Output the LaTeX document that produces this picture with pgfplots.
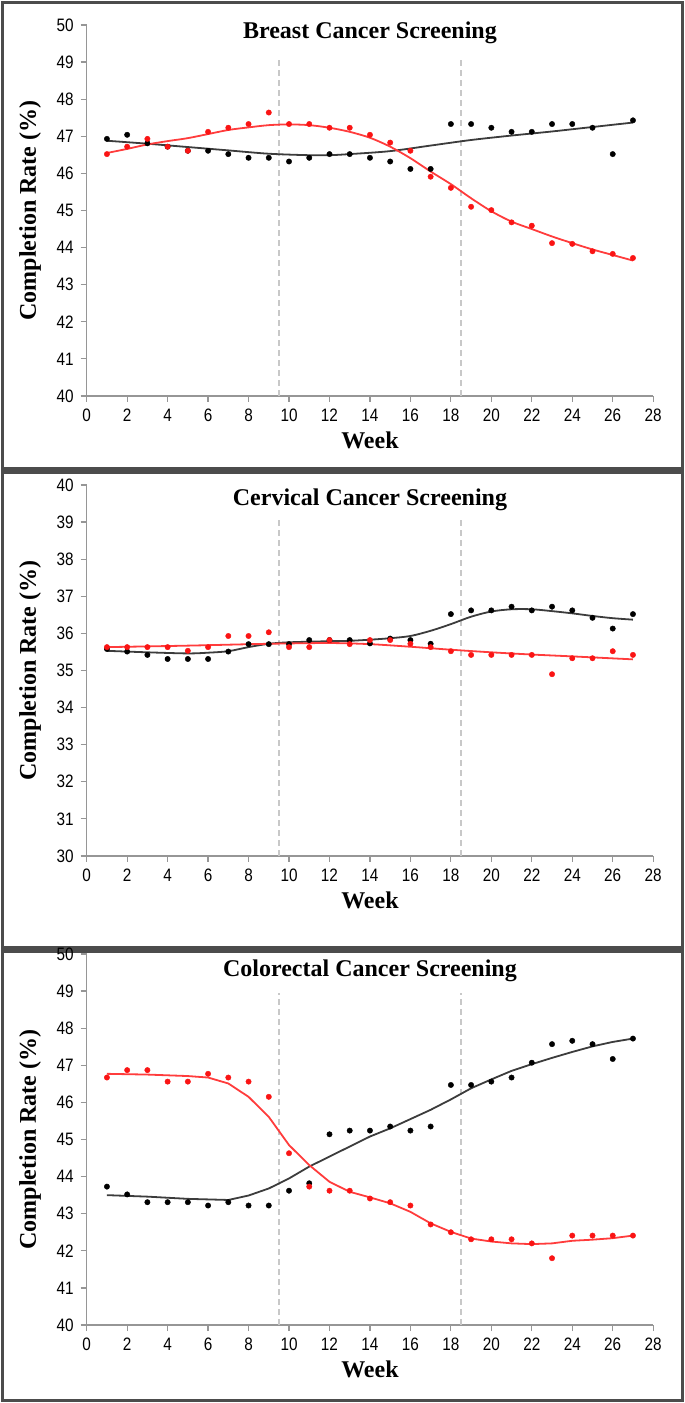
\documentclass[border=0pt]{standalone}
\usepackage{pgfplots}
\pgfplotsset{compat=1.18}
\usepackage{fontspec}
\setmainfont{Liberation Serif}
\newfontfamily\ticksans[FakeStretch=0.85]{Liberation Sans}
\definecolor{ptred}{RGB}{250,20,20}
\definecolor{lnred}{RGB}{255,60,60}
\definecolor{lnblk}{RGB}{60,60,60}
\definecolor{axgray}{RGB}{150,150,150}
\definecolor{dashgray}{RGB}{200,200,200}
\pgfplotsset{
  every axis title shift=0pt,
  panel/.style={
    scale only axis, width=283.25pt, height=185.5pt,
    xmin=0, xmax=28, xtick={0,2,...,28},
    axis lines=left,
    axis line style={axgray, line width=0.6pt, -},
    tick style={axgray, line width=0.6pt},
    tick align=outside, major tick length=3pt,
    /pgf/number format/assume math mode=true,
    ticklabel style={font=\ticksans\fontsize{9}{10}\selectfont, text=black},
    label style={font=\fontsize{12}{14}\selectfont\bfseries},
    title style={font=\fontsize{12}{14}\selectfont\bfseries, anchor=center},
    xlabel={Week},
    ylabel={Completion Rate (\%)},
    xlabel style={at={(axis description cs:0.5,-0.12)}, anchor=center},
    ylabel style={at={(axis description cs:-0.1,0.5)}, anchor=center},
    clip=false,
  },
  dpts/.style={only marks, mark=*, mark size=1.35pt, mark options={draw=black, fill=black, line width=0.2pt}},
  rpts/.style={only marks, mark=*, mark size=1.35pt, mark options={draw=ptred, fill=ptred, line width=0.2pt}},
  rline/.style={lnred, line width=0.9pt, no marks},
  bline/.style={lnblk, line width=0.9pt, no marks},
  vdash/.style={dashgray, line width=0.8pt, dash pattern=on 3pt off 2pt, no marks},
}
\begin{document}
\begin{tikzpicture}
\useasboundingbox (0pt,0pt) rectangle (342.5pt,701.5pt);
\draw[line width=1.8pt, black!70] (1.2pt,467pt) rectangle (341.3pt,700.3pt);
\draw[line width=1.8pt, black!70] (1.2pt,227.5pt) rectangle (341.3pt,465.2pt);
\draw[line width=1.8pt, black!70] (1.2pt,1.2pt) rectangle (341.3pt,225.7pt);

% ---------- Breast ----------
\begin{axis}[panel, at={(43.35pt,503.5pt)}, anchor=south west,
  ymin=40, ymax=50, ytick={40,41,...,50},
  title={Breast Cancer Screening},
  title style={at={(axis description cs:0.5,0.978)}}]
\addplot[vdash] coordinates {(9.5,40) (9.5,49.05)};
\addplot[vdash] coordinates {(18.5,40) (18.5,49.05)};
\addplot[bline, smooth] coordinates {(1,46.88) (3,46.80) (5,46.71) (7,46.62) (9,46.53) (11,46.49) (12,46.49) (13,46.52) (15,46.60) (17,46.75) (19,46.90) (21,47.02) (23,47.13) (25,47.25) (27,47.37)};
\addplot[rline, smooth] coordinates {(1,46.55) (2,46.66) (3,46.78) (4,46.87) (5,46.95) (6,47.06) (7,47.17) (8,47.24) (9,47.30) (10,47.32) (11,47.30) (12,47.23) (13,47.12) (14,46.96) (15,46.72) (16,46.41) (17,46.05) (18,45.71) (19,45.33) (20,44.98) (21,44.70) (22,44.50) (23,44.30) (24,44.12) (25,43.95) (26,43.80) (27,43.65)};
\addplot[dpts] coordinates {(1,46.93) (2,47.04) (3,46.81) (4,46.72) (5,46.61) (6,46.61) (7,46.52) (8,46.42) (9,46.42) (10,46.32) (11,46.42) (12,46.52) (13,46.52) (14,46.42) (15,46.32) (16,46.12) (17,46.12) (18,47.33) (19,47.33) (20,47.23) (21,47.12) (22,47.12) (23,47.33) (24,47.33) (25,47.23) (26,46.52) (27,47.43)};
\addplot[rpts] coordinates {(1,46.52) (2,46.72) (3,46.93) (4,46.72) (5,46.61) (6,47.12) (7,47.23) (8,47.33) (9,47.64) (10,47.33) (11,47.33) (12,47.23) (13,47.23) (14,47.04) (15,46.83) (16,46.61) (17,45.91) (18,45.61) (19,45.10) (20,45.01) (21,44.68) (22,44.59) (23,44.12) (24,44.10) (25,43.90) (26,43.83) (27,43.72)};
\end{axis}

% ---------- Cervical ----------
\begin{axis}[panel, at={(43.35pt,273.5pt)}, anchor=south west,
  ymin=30, ymax=40, ytick={30,31,...,40},
  title={Cervical Cancer Screening},
  title style={at={(axis description cs:0.5,0.96)}}]
\addplot[vdash] coordinates {(9.5,30) (9.5,39.05)};
\addplot[vdash] coordinates {(18.5,30) (18.5,39.05)};
\addplot[bline, smooth] coordinates {(1,35.53) (3,35.49) (5,35.46) (6,35.48) (7,35.52) (8,35.63) (9,35.72) (10,35.76) (12,35.79) (13,35.80) (14,35.83) (15,35.87) (16,35.93) (17,36.07) (18,36.25) (19,36.45) (20,36.59) (21,36.65) (22,36.65) (23,36.60) (24,36.54) (25,36.47) (26,36.41) (27,36.37)};
\addplot[rline, smooth] coordinates {(1,35.63) (5,35.67) (9,35.72) (12,35.74) (14,35.71) (16,35.64) (18,35.56) (20,35.49) (22,35.43) (24,35.38) (27,35.30)};
\addplot[dpts] coordinates {(1,35.58) (2,35.51) (3,35.42) (4,35.31) (5,35.31) (6,35.31) (7,35.51) (8,35.71) (9,35.71) (10,35.71) (11,35.82) (12,35.82) (13,35.82) (14,35.73) (15,35.86) (16,35.82) (17,35.72) (18,36.52) (19,36.62) (20,36.62) (21,36.72) (22,36.62) (23,36.72) (24,36.62) (25,36.42) (26,36.13) (27,36.52)};
\addplot[rpts] coordinates {(1,35.63) (2,35.63) (3,35.63) (4,35.63) (5,35.53) (6,35.63) (7,35.93) (8,35.93) (9,36.03) (10,35.63) (11,35.63) (12,35.82) (13,35.71) (14,35.82) (15,35.82) (16,35.72) (17,35.63) (18,35.52) (19,35.42) (20,35.42) (21,35.42) (22,35.42) (23,34.90) (24,35.33) (25,35.33) (26,35.52) (27,35.42)};
\end{axis}

% ---------- Colorectal ----------
\begin{axis}[panel, at={(43.35pt,39pt)}, anchor=south west,
  ymin=40, ymax=50, ytick={40,41,...,50},
  title={Colorectal Cancer Screening},
  title style={at={(axis description cs:0.5,0.954)}}]
\addplot[vdash] coordinates {(9.5,40) (9.5,48.95)};
\addplot[vdash] coordinates {(18.5,40) (18.5,48.95)};
\addplot[bline] coordinates {(1,43.50) (3,43.46) (5,43.40) (7,43.37) (8,43.49) (9,43.68) (10,43.95) (11,44.27) (12,44.54) (13,44.81) (14,45.08) (15,45.30) (16,45.55) (17,45.80) (18,46.08) (19,46.38) (20,46.62) (21,46.85) (22,47.03) (23,47.20) (24,47.36) (25,47.51) (26,47.63) (27,47.72)};
\addplot[rline] coordinates {(1,46.77) (3,46.75) (5,46.71) (6,46.67) (7,46.51) (8,46.15) (9,45.61) (10,44.85) (11,44.31) (12,43.86) (13,43.59) (14,43.44) (15,43.28) (16,43.05) (17,42.74) (18,42.51) (19,42.33) (20,42.25) (21,42.20) (22,42.18) (23,42.20) (24,42.27) (25,42.30) (26,42.34) (27,42.41)};
\addplot[dpts] coordinates {(1,43.73) (2,43.52) (3,43.31) (4,43.31) (5,43.31) (6,43.22) (7,43.31) (8,43.22) (9,43.22) (10,43.62) (11,43.82) (12,45.14) (13,45.24) (14,45.24) (15,45.35) (16,45.24) (17,45.35) (18,46.47) (19,46.47) (20,46.56) (21,46.67) (22,47.07) (23,47.57) (24,47.66) (25,47.57) (26,47.17) (27,47.72)};
\addplot[rpts] coordinates {(1,46.67) (2,46.87) (3,46.87) (4,46.56) (5,46.56) (6,46.77) (7,46.67) (8,46.56) (9,46.15) (10,44.63) (11,43.73) (12,43.62) (13,43.62) (14,43.41) (15,43.31) (16,43.22) (17,42.71) (18,42.50) (19,42.31) (20,42.31) (21,42.31) (22,42.20) (23,41.80) (24,42.41) (25,42.41) (26,42.41) (27,42.41)};
\end{axis}
\end{tikzpicture}
\end{document}
